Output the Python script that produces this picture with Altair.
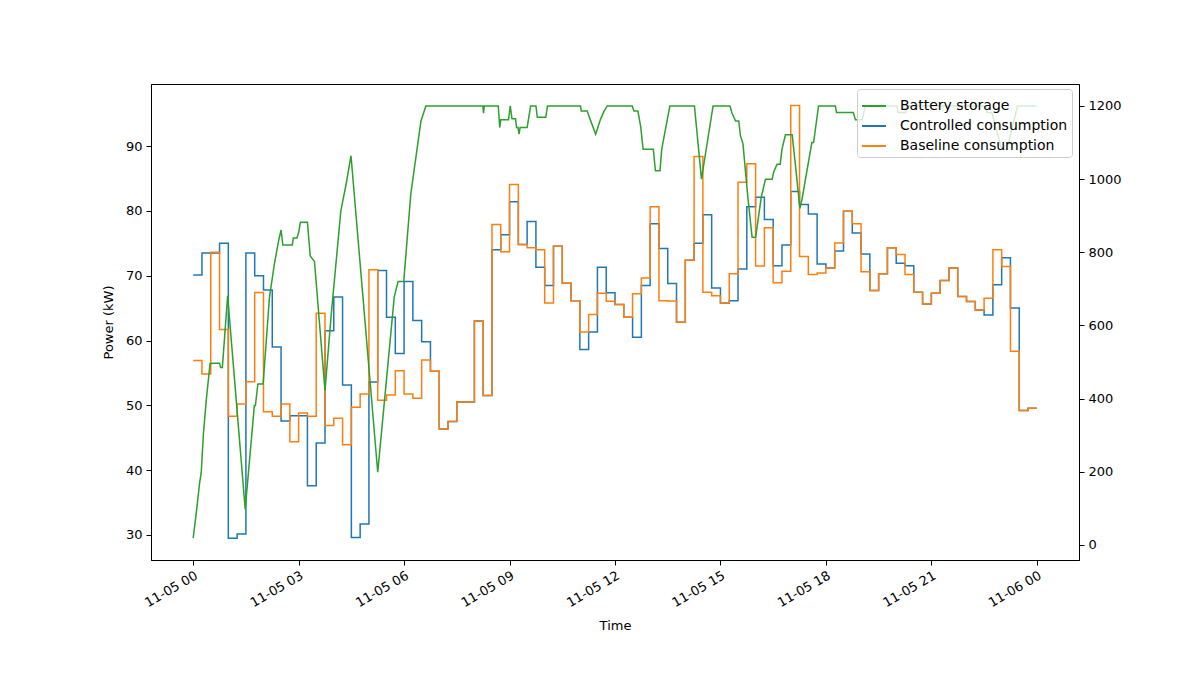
import altair as alt
import pandas as pd

# 15-minute consumption values (kW), 00:00 .. 23:45
controlled = [70.1, 73.5, 73.5, 75.0, 29.5, 30.15, 73.5, 70.0, 67.8, 59.0, 47.6, 48.4,
              48.4, 37.6, 44.2, 61.5, 66.7, 53.15, 29.6, 31.7, 53.6, 70.8, 63.6, 58.0,
              69.1, 63.1, 59.8, 55.25, 46.35, 47.5, 50.5, 50.5, 63.0, 51.5, 74.0, 76.3,
              81.4, 74.8, 78.35, 71.3, 68.5, 74.55, 68.85, 66.15, 58.6, 61.3, 71.3, 67.35,
              65.55, 63.6, 60.5, 68.5, 78.0, 74.2, 68.8, 62.8, 72.4, 75.0, 79.4, 68.1,
              65.8, 66.15, 71.05, 80.65, 82.1, 78.65, 71.55, 74.75, 83.0, 80.97, 79.5, 71.8,
              71.2, 73.8, 79.95, 76.6, 73.35, 67.7, 70.3, 74.3, 71.9, 71.55, 67.45, 65.65,
              67.3, 69.25, 71.2, 66.8, 66.0, 64.7, 63.95, 68.6, 72.75, 65.0, 49.2, 49.55]
baseline = [56.9, 54.85, 73.6, 61.7, 48.3, 50.2, 53.65, 67.4, 49.0, 48.3, 50.2, 44.4,
            48.8, 48.3, 64.2, 46.9, 48.0, 43.9, 49.7, 51.75, 70.9, 50.8, 51.6, 55.35,
            51.75, 51.1, 57.0, 55.25, 46.35, 47.5, 50.5, 50.5, 63.0, 51.5, 77.9, 73.7,
            84.05, 74.8, 74.3, 74.0, 65.8, 74.55, 68.85, 66.15, 61.3, 64.0, 67.3, 66.05,
            65.55, 63.6, 67.2, 69.65, 80.65, 66.15, 66.1, 62.8, 72.4, 88.4, 67.45, 66.9,
            65.8, 70.3, 84.4, 87.25, 71.5, 77.4, 68.9, 70.7, 96.25, 72.95, 70.2, 70.4,
            71.2, 75.05, 79.95, 78.0, 70.6, 67.7, 70.3, 74.3, 73.25, 70.2, 67.45, 65.65,
            67.3, 69.25, 71.2, 66.8, 66.0, 64.7, 66.5, 74.0, 71.4, 58.35, 49.2, 49.55]

# battery storage vertices (hour of day, value)
battery_t = [0, 0.085, 0.18, 0.23, 0.29, 0.37, 0.48, 0.6, 0.75, 0.78, 0.83, 0.98, 1.48, 1.74,
             1.77, 1.84, 1.99, 2.17, 2.31, 2.43, 2.5, 2.55, 2.82, 2.85, 2.95, 3.0, 3.05, 3.25,
             3.33, 3.45, 3.75, 3.92, 4.2, 4.35, 4.49, 5.25, 5.55, 5.72, 5.83, 5.99, 6.19, 6.48,
             6.62, 8.24, 8.26, 8.28, 8.68, 8.72, 8.75, 8.97, 9.02, 9.07, 9.17, 9.2, 9.24, 9.27,
             9.3, 9.5, 9.6, 9.75, 9.79, 10.03, 10.08, 11.02, 11.04, 11.21, 11.29, 11.45, 11.59,
             11.69, 11.78, 12.49, 12.54, 12.65, 12.73, 12.8, 13.09, 13.15, 13.28, 13.33, 13.56,
             14.26, 14.46, 14.79, 15.27, 15.33, 15.43, 15.52, 15.57, 15.64, 15.78, 15.9, 16.0,
             16.16, 16.28, 16.47, 16.52, 16.61, 16.7, 16.75, 16.85, 17.04, 17.13, 17.26, 17.32,
             17.6, 17.65, 17.79, 18.27, 18.3, 18.78, 18.84, 19.03, 19.12, 20.02, 20.05, 20.27,
             20.3, 22.53, 22.58, 22.72, 23.0, 23.15, 23.45, 24.0]
battery_v = [19, 85, 167, 199, 303, 394, 496, 497, 497, 485, 485, 681, 98, 381,
             381, 440, 440, 677, 768, 831, 861, 820, 820, 839, 839, 854, 882, 882,
             790, 775, 422, 622, 913, 986, 1064, 199, 504, 678, 720, 720, 959, 1159,
             1200, 1200, 1180, 1200, 1200, 1141, 1162, 1162, 1200, 1165, 1165, 1141, 1141, 1123,
             1141, 1141, 1200, 1200, 1169, 1169, 1200, 1200, 1186, 1186, 1164, 1123, 1164,
             1186, 1200, 1200, 1186, 1186, 1144, 1082, 1082, 1023, 1023, 1082, 1200,
             1200, 1000, 1200, 1200, 1180, 1159, 1159, 1118, 1097, 950, 841, 841,
             950, 1000, 1000, 1021, 1041, 1041, 1082, 1121, 1121, 1041, 920, 945,
             1100, 1100, 1200, 1200, 1182, 1182, 1162, 1162, 1200, 1200, 1182, 1182,
             1200, 1200, 1182, 1182, 1082, 1082, 1200, 1200]

series_names = ["Battery storage", "Controlled consumption", "Baseline consumption"]
series_colors = ["#2ca02c", "#1f77b4", "#ff7f0e"]
tick_hours = [0, 3, 6, 9, 12, 15, 18, 21, 24]

hours = [i * 0.25 for i in range(len(controlled))] + [24.0]
df_ctrl = pd.DataFrame({"t": hours, "v": controlled + [controlled[-1]],
                        "series": "Controlled consumption"})
df_base = pd.DataFrame({"t": hours, "v": baseline + [baseline[-1]],
                        "series": "Baseline consumption"})
df_batt = pd.DataFrame({"t": battery_t, "v": battery_v, "series": "Battery storage"})

font = "DejaVu Sans"

x_enc = alt.X("t:Q", scale=alt.Scale(domain=[-1.2, 25.2], nice=False, zero=False),
              axis=alt.Axis(values=tick_hours, title="Time", labelAngle=330,
                            labelAlign="right", labelBaseline="top",
                            labelExpr="datum.value == 24 ? '11-06 00' : '11-05 ' + (datum.value < 10 ? '0' : '') + datum.value",
                            titlePadding=10))
color_enc = alt.Color("series:N",
                      scale=alt.Scale(domain=series_names, range=series_colors),
                      legend=alt.Legend(title=None, orient="none", legendX=706, legendY=5,
                                        symbolType="stroke", symbolSize=576,
                                        symbolStrokeWidth=2, labelFontSize=14,
                                        labelFont=font, labelColor="black", labelLimit=400,
                                        rowPadding=-3, padding=4, labelOffset=13,
                                        fillColor="rgba(255,255,255,0.8)",
                                        strokeColor="#cccccc", cornerRadius=3))

y_left = alt.Y("v:Q", scale=alt.Scale(domain=[26.14, 99.57], nice=False, zero=False),
               axis=alt.Axis(values=[30, 40, 50, 60, 70, 80, 90], title="Power (kW)",
                             titlePadding=10))
y_right = alt.Y("v:Q", scale=alt.Scale(domain=[-41, 1260], nice=False, zero=False),
                axis=alt.Axis(values=[0, 200, 400, 600, 800, 1000, 1200], title=None,
                              orient="right", format="d"))

ctrl = alt.Chart(df_ctrl).mark_line(interpolate="step-after", strokeWidth=1.5).encode(
    x=x_enc, y=y_left, color=color_enc)
base = alt.Chart(df_base).mark_line(interpolate="step-after", strokeWidth=1.5).encode(
    x=x_enc, y=y_left, color=color_enc)
batt = alt.Chart(df_batt).mark_line(strokeWidth=1.5).encode(
    x=x_enc, y=y_right, color=color_enc)

chart = alt.layer(alt.layer(ctrl, base), batt).resolve_scale(y="independent").properties(
    width=928, height=476,
    background="white",
    autosize=alt.AutoSizeParams(type="none"),
    padding={"left": 143, "top": 76, "right": 113, "bottom": 128},
).configure_view(stroke="black", strokeWidth=1).configure_axis(
    grid=False, domainColor="black", tickColor="black", tickSize=5,
    labelColor="black", labelFont=font, labelFontSize=13, labelPadding=4,
    titleFont=font, titleFontSize=13, titleFontWeight="normal", titleColor="black",
)

chart.save("out.html", embed_options={"renderer": "svg", "actions": False})
